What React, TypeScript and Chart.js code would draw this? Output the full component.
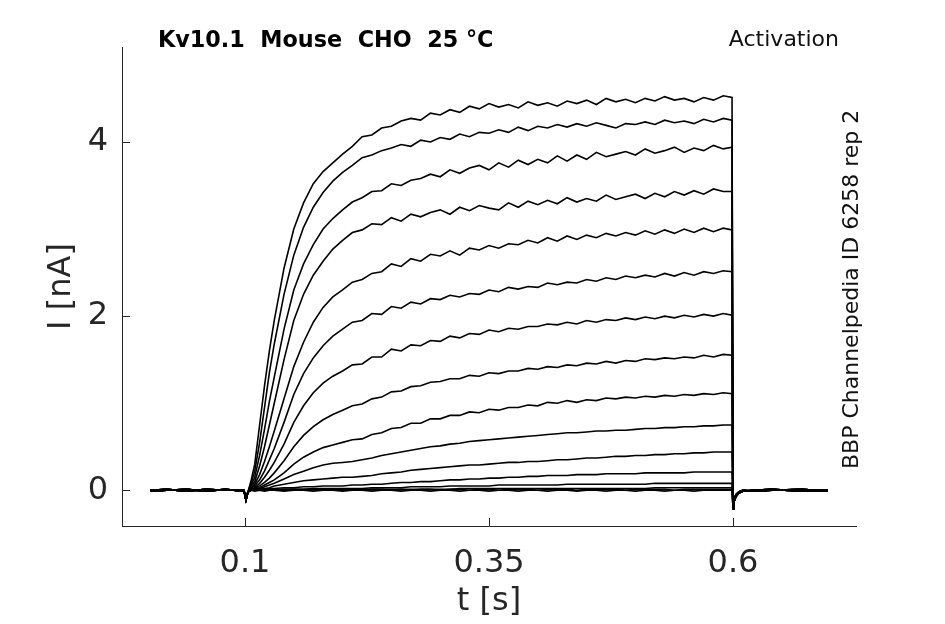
import { useEffect, useRef } from "react";
import { Chart, registerables } from "chart.js";
import type { ChartConfiguration, Plugin } from "chart.js";

Chart.register(...registerables);

const FONT = "'DejaVu Sans', Verdana, sans-serif";
const AXIS_COLOR = "#262626";
const TICK_LEN = 8;

const X_TICKS = [0.1, 0.35, 0.6];
const Y_TICKS = [0, 2, 4];

// time base (s)
const preTime = [0.003, 0.02, 0.04, 0.06, 0.08, 0.099];
const pulseTime = [
  0.101, 0.103, 0.106, 0.11, 0.115, 0.12, 0.125, 0.13, 0.14, 0.15, 0.16, 0.17, 0.18, 0.19,
  0.2, 0.21, 0.22, 0.23, 0.24, 0.25, 0.26, 0.27, 0.28, 0.29,
  0.3, 0.31, 0.32, 0.33, 0.34, 0.35, 0.36, 0.37, 0.38, 0.39,
  0.4, 0.41, 0.42, 0.43, 0.44, 0.45, 0.46, 0.47, 0.48, 0.49,
  0.5, 0.51, 0.52, 0.53, 0.54, 0.55, 0.56, 0.57, 0.58, 0.59,
  0.599,
];
const tailTime = [0.6, 0.601, 0.603, 0.606, 0.61, 0.62, 0.64, 0.67, 0.697];

// holding current before and after the step (nA)
const preA = [0.0, 0.01, -0.01, 0.01, 0.0, 0.0];
const preB = [-0.01, 0.0, 0.01, -0.01, 0.01, -0.01];
const tailA = [-0.21, -0.13, -0.07, -0.03, -0.01, 0.0, 0.01, -0.01, 0.0];
const tailB = [-0.19, -0.11, -0.05, -0.02, 0.0, -0.01, 0.0, 0.01, -0.01];

// current during the step, one array per test potential (nA)
const trace1 = [
  -0.11, -0.02, 0.1, 0.3, 0.75, 1.2, 1.6, 1.95, 2.55, 3.0, 3.3, 3.52, 3.66, 3.76,
  3.86, 3.95, 4.06, 4.08, 4.16, 4.18, 4.24, 4.27, 4.25, 4.33,
  4.31, 4.37, 4.34, 4.41, 4.38, 4.44, 4.4, 4.43, 4.39, 4.46,
  4.42, 4.45, 4.41, 4.47, 4.44, 4.48, 4.43, 4.5, 4.46, 4.49,
  4.45, 4.5, 4.47, 4.52, 4.48, 4.5, 4.46, 4.51, 4.48, 4.53,
  4.51,
];
const trace2 = [
  -0.11, -0.02, 0.07, 0.22, 0.55, 0.95, 1.35, 1.68, 2.25, 2.7, 3.02, 3.25, 3.42, 3.55,
  3.65, 3.73, 3.82, 3.85, 3.9, 3.93, 3.97, 3.95, 4.02, 4.0,
  4.05, 4.03, 4.09, 4.06, 4.11, 4.1, 4.14, 4.11, 4.17, 4.13,
  4.18, 4.16, 4.2, 4.17, 4.21, 4.18, 4.22, 4.19, 4.16, 4.21,
  4.2, 4.23, 4.2, 4.25, 4.22, 4.24, 4.21, 4.26, 4.23, 4.27,
  4.25,
];
const trace3 = [
  -0.11, -0.02, 0.05, 0.15, 0.4, 0.7, 1.02, 1.3, 1.85, 2.3, 2.6, 2.82, 3.0, 3.12,
  3.22, 3.31, 3.36, 3.43, 3.44, 3.52, 3.5, 3.56, 3.58, 3.63,
  3.6, 3.68, 3.64, 3.7, 3.73, 3.68, 3.76, 3.71, 3.79, 3.74,
  3.8, 3.76, 3.84, 3.78, 3.85, 3.8, 3.88, 3.83, 3.86, 3.89,
  3.85, 3.92, 3.87, 3.9, 3.94, 3.88, 3.93, 3.9, 3.96, 3.92,
  3.94,
];
const trace4 = [
  -0.11, -0.02, 0.04, 0.1, 0.28, 0.5, 0.75, 1.0, 1.5, 1.95, 2.25, 2.47, 2.63, 2.77,
  2.87, 2.96, 2.99, 3.06, 3.05, 3.13, 3.09, 3.17, 3.14, 3.19,
  3.22, 3.17, 3.25, 3.21, 3.27, 3.24, 3.22, 3.3, 3.25, 3.32,
  3.28, 3.33, 3.29, 3.36, 3.31, 3.35, 3.32, 3.39, 3.34, 3.37,
  3.4, 3.35, 3.41, 3.37, 3.43, 3.39, 3.44, 3.4, 3.46, 3.43,
  3.43,
];
const trace5 = [
  -0.11, -0.02, 0.03, 0.07, 0.18, 0.33, 0.5, 0.68, 1.05, 1.42, 1.7, 1.93, 2.1, 2.22,
  2.3, 2.39, 2.42, 2.49, 2.51, 2.6, 2.57, 2.66, 2.63, 2.71,
  2.69, 2.75, 2.7, 2.78, 2.76, 2.81, 2.78, 2.83, 2.82, 2.87,
  2.84, 2.9, 2.86, 2.92, 2.88, 2.93, 2.9, 2.95, 2.92, 2.96,
  2.93, 2.98, 2.94, 2.99, 2.95, 3.0, 2.96, 3.01, 2.97, 3.01,
  2.99,
];
const trace6 = [
  -0.11, -0.02, 0.02, 0.05, 0.12, 0.22, 0.35, 0.48, 0.78, 1.1, 1.34, 1.52, 1.66, 1.77,
  1.85, 1.93, 1.95, 2.03, 2.02, 2.11, 2.09, 2.16, 2.14, 2.2,
  2.19, 2.24, 2.22, 2.26, 2.25, 2.3, 2.28, 2.33, 2.31, 2.34,
  2.33, 2.38, 2.36, 2.39, 2.38, 2.42, 2.4, 2.44, 2.42, 2.46,
  2.44, 2.47, 2.45, 2.49, 2.46, 2.5, 2.47, 2.51, 2.49, 2.52,
  2.51,
];
const trace7 = [
  -0.11, -0.02, 0.02, 0.03, 0.08, 0.15, 0.23, 0.32, 0.53, 0.78, 0.97, 1.12, 1.23, 1.31,
  1.37, 1.44, 1.45, 1.53, 1.53, 1.62, 1.6, 1.67, 1.66, 1.72,
  1.71, 1.77, 1.75, 1.8, 1.79, 1.84, 1.82, 1.86, 1.85, 1.88,
  1.88, 1.91, 1.9, 1.93, 1.91, 1.95, 1.93, 1.96, 1.95, 1.98,
  1.96, 1.99, 1.97, 2.0, 1.98, 2.01, 1.99, 2.02, 2.0, 2.03,
  2.01,
];
const trace8 = [
  -0.11, -0.02, 0.01, 0.02, 0.05, 0.09, 0.14, 0.2, 0.34, 0.5, 0.63, 0.73, 0.81, 0.87,
  0.92, 0.97, 0.99, 1.05, 1.07, 1.13, 1.14, 1.19, 1.2, 1.24,
  1.25, 1.28, 1.28, 1.32, 1.31, 1.35, 1.34, 1.37, 1.37, 1.4,
  1.39, 1.42, 1.41, 1.44, 1.43, 1.46, 1.45, 1.48, 1.46, 1.49,
  1.48, 1.51, 1.5, 1.52, 1.51, 1.53, 1.52, 1.55, 1.53, 1.56,
  1.55,
];
const trace9 = [
  -0.11, -0.02, 0.01, 0.02, 0.03, 0.06, 0.09, 0.12, 0.2, 0.3, 0.38, 0.44, 0.49, 0.52,
  0.55, 0.58, 0.59, 0.64, 0.66, 0.71, 0.72, 0.77, 0.77, 0.82,
  0.82, 0.86, 0.86, 0.9, 0.89, 0.93, 0.92, 0.95, 0.95, 0.98,
  0.97, 1.01, 1.0, 1.03, 1.01, 1.04, 1.03, 1.06, 1.05, 1.07,
  1.06, 1.08, 1.07, 1.09, 1.08, 1.1, 1.09, 1.11, 1.1, 1.12,
  1.11,
];
const trace10 = [
  -0.11, -0.02, 0.01, 0.01, 0.02, 0.04, 0.06, 0.08, 0.13, 0.18, 0.22, 0.26, 0.29, 0.31,
  0.32, 0.33, 0.35, 0.37, 0.4, 0.42, 0.44, 0.46, 0.48, 0.5,
  0.51, 0.53, 0.54, 0.56, 0.57, 0.58, 0.59, 0.6, 0.61, 0.62,
  0.63, 0.64, 0.65, 0.66, 0.66, 0.67, 0.68, 0.68, 0.69, 0.69,
  0.7, 0.71, 0.71, 0.72, 0.72, 0.73, 0.73, 0.74, 0.74, 0.75,
  0.75,
];
const trace11 = [
  -0.11, -0.02, 0.0, 0.01, 0.01, 0.02, 0.03, 0.05, 0.07, 0.09, 0.11, 0.12, 0.13, 0.14,
  0.15, 0.15, 0.16, 0.17, 0.19, 0.2, 0.21, 0.23, 0.24, 0.25,
  0.26, 0.27, 0.28, 0.29, 0.29, 0.3, 0.31, 0.32, 0.32, 0.33,
  0.33, 0.34, 0.35, 0.35, 0.36, 0.37, 0.37, 0.38, 0.39, 0.39,
  0.4, 0.4, 0.41, 0.41, 0.42, 0.42, 0.43, 0.43, 0.44, 0.44,
  0.44,
];
const trace12 = [
  -0.11, -0.02, 0.0, 0.0, 0.01, 0.01, 0.02, 0.02, 0.03, 0.03, 0.04, 0.04, 0.05, 0.05,
  0.05, 0.06, 0.06, 0.07, 0.07, 0.08, 0.09, 0.09, 0.1, 0.1,
  0.11, 0.12, 0.12, 0.13, 0.13, 0.14, 0.14, 0.15, 0.15, 0.16,
  0.16, 0.17, 0.17, 0.17, 0.18, 0.18, 0.18, 0.19, 0.19, 0.19,
  0.19, 0.2, 0.2, 0.2, 0.2, 0.2, 0.21, 0.21, 0.21, 0.21,
  0.21,
];
const trace13 = [
  -0.11, -0.02, 0.0, 0.0, 0.0, 0.01, 0.01, 0.01, 0.01, 0.01, 0.01, 0.02, 0.02, 0.02,
  0.02, 0.02, 0.02, 0.03, 0.03, 0.03, 0.03, 0.04, 0.04, 0.04,
  0.04, 0.05, 0.05, 0.05, 0.05, 0.05, 0.06, 0.06, 0.06, 0.06,
  0.06, 0.06, 0.06, 0.07, 0.07, 0.07, 0.07, 0.07, 0.07, 0.07,
  0.07, 0.07, 0.08, 0.08, 0.08, 0.08, 0.08, 0.08, 0.08, 0.08,
  0.08,
];
const trace14 = [
  -0.11, -0.02, 0.0, 0.0, 0.0, 0.0, 0.0, 0.0, 0.01, 0.01, 0.01, 0.01, 0.01, 0.01,
  0.01, 0.01, 0.01, 0.01, 0.01, 0.01, 0.01, 0.01, 0.01, 0.01,
  0.01, 0.01, 0.02, 0.02, 0.02, 0.02, 0.02, 0.02, 0.02, 0.02,
  0.02, 0.02, 0.02, 0.02, 0.02, 0.02, 0.02, 0.02, 0.02, 0.02,
  0.02, 0.02, 0.03, 0.03, 0.03, 0.03, 0.03, 0.03, 0.03, 0.03,
  0.03,
];
const trace15 = [
  -0.11, -0.02, 0.0, 0.01, 0.0, 0.01, 0.0, 0.01, 0.0, 0.01, 0.0, 0.01, 0.0, 0.01,
  0.0, 0.01, 0.0, 0.01, 0.01, 0.0, 0.01, 0.0, 0.01, 0.01,
  0.0, 0.01, 0.01, 0.0, 0.01, 0.01, 0.0, 0.01, 0.01, 0.01,
  0.0, 0.01, 0.01, 0.01, 0.0, 0.01, 0.01, 0.01, 0.01, 0.0,
  0.01, 0.01, 0.01, 0.01, 0.0, 0.01, 0.01, 0.01, 0.01, 0.01,
  0.01,
];
const trace16 = [
  -0.11, -0.02, 0.0, -0.01, 0.0, -0.01, 0.0, 0.0, -0.01, 0.0, 0.0, -0.01, 0.0, 0.0,
  -0.01, 0.0, 0.0, -0.01, 0.0, 0.0, -0.01, 0.0, 0.0, -0.01,
  0.0, 0.0, -0.01, 0.0, 0.0, -0.01, 0.0, 0.0, -0.01, 0.0,
  0.0, -0.01, 0.0, 0.0, -0.01, 0.0, 0.0, -0.01, 0.0, 0.0,
  -0.01, 0.0, 0.0, -0.01, 0.0, 0.0, -0.01, 0.0, 0.0, 0.0,
  0.0,
];

const traces = [
  trace1, trace2, trace3, trace4, trace5, trace6, trace7, trace8,
  trace9, trace10, trace11, trace12, trace13, trace14, trace15, trace16,
];

function sweep(pulse: number[], pre: number[], tail: number[]) {
  return [
    ...preTime.map((t, i) => ({ x: t, y: pre[i] })),
    ...pulseTime.map((t, i) => ({ x: t, y: pulse[i] })),
    ...tailTime.map((t, i) => ({ x: t, y: tail[i] })),
  ];
}

const decorations: Plugin<"line"> = {
  id: "decorations",
  afterDraw(chart) {
    const { ctx, chartArea, scales } = chart;
    const xs = scales.x;
    const ys = scales.y;
    ctx.save();

    // inward tick marks
    ctx.strokeStyle = AXIS_COLOR;
    ctx.lineWidth = 1;
    ctx.beginPath();
    X_TICKS.forEach((v) => {
      const px = Math.round(xs.getPixelForValue(v)) + 0.5;
      ctx.moveTo(px, chartArea.bottom);
      ctx.lineTo(px, chartArea.bottom - TICK_LEN);
    });
    Y_TICKS.forEach((v) => {
      const py = Math.round(ys.getPixelForValue(v)) + 0.5;
      ctx.moveTo(chartArea.left, py);
      ctx.lineTo(chartArea.left + TICK_LEN, py);
    });
    ctx.stroke();

    // axis titles
    ctx.fillStyle = AXIS_COLOR;
    ctx.font = `32px ${FONT}`;
    ctx.textAlign = "center";
    ctx.textBaseline = "middle";
    ctx.fillText("t [s]", (chartArea.left + chartArea.right) / 2, 602);
    ctx.save();
    ctx.translate(62, (chartArea.top + chartArea.bottom) / 2);
    ctx.rotate(-Math.PI / 2);
    ctx.fillText("I [nA]", 0, 0);
    ctx.restore();

    // header texts
    ctx.textBaseline = "alphabetic";
    ctx.fillStyle = "#000";
    ctx.font = `bold 22.3px ${FONT}`;
    ctx.textAlign = "left";
    ctx.fillText("Kv10.1  Mouse  CHO  25 °C", 158, 47);

    ctx.fillStyle = "#111";
    ctx.font = `22px ${FONT}`;
    ctx.textAlign = "right";
    ctx.fillText("Activation", 839, 46);

    ctx.save();
    ctx.translate(858, 469);
    ctx.rotate(-Math.PI / 2);
    ctx.textAlign = "left";
    ctx.fillText("BBP Channelpedia ID 6258 rep 2", 0, 0);
    ctx.restore();

    ctx.restore();
  },
};

export default function App() {
  const canvasRef = useRef<HTMLCanvasElement | null>(null);
  const chartRef = useRef<Chart<"line"> | null>(null);

  useEffect(() => {
    if (!canvasRef.current) return;

    const datasets = traces.map((pulse, i) => ({
      label: `sweep ${i + 1}`,
      data: sweep(pulse, i % 2 ? preB : preA, i % 2 ? tailB : tailA),
      borderColor: "#000",
      borderWidth: 1.6,
      pointRadius: 0,
      tension: 0,
      fill: false,
    }));

    const config: ChartConfiguration<"line"> = {
      type: "line",
      data: { datasets },
      options: {
        responsive: false,
        animation: false,
        events: [],
        layout: { padding: { left: 0, right: 89, top: 47, bottom: 0 } },
        plugins: {
          legend: { display: false },
          tooltip: { enabled: false },
          title: { display: false },
        },
        scales: {
          x: {
            type: "linear",
            min: -0.026,
            max: 0.726,
            afterBuildTicks: (scale) => {
              scale.ticks = X_TICKS.map((v) => ({ value: v }));
            },
            afterFit: (scale) => {
              scale.height = 98;
            },
            grid: { display: false, drawTicks: false },
            border: { display: true, color: AXIS_COLOR, width: 1 },
            ticks: {
              color: AXIS_COLOR,
              font: { family: FONT, size: 32 },
              padding: 18,
              maxRotation: 0,
              autoSkip: false,
              callback: (v) => String(v),
            },
          },
          y: {
            type: "linear",
            min: -0.41,
            max: 5.09,
            afterBuildTicks: (scale) => {
              scale.ticks = Y_TICKS.map((v) => ({ value: v }));
            },
            afterFit: (scale) => {
              scale.width = 122;
            },
            grid: { display: false, drawTicks: false },
            border: { display: true, color: AXIS_COLOR, width: 1 },
            ticks: {
              color: AXIS_COLOR,
              font: { family: FONT, size: 32 },
              padding: 14,
              autoSkip: false,
              callback: (v) => String(v),
            },
          },
        },
      },
      plugins: [decorations],
    };

    chartRef.current = new Chart(canvasRef.current, config);

    return () => {
      chartRef.current?.destroy();
      chartRef.current = null;
    };
  }, []);

  return (
    <div style={{ position: "absolute", left: 0, top: 0, width: 945, height: 624, background: "#fff" }}>
      <canvas ref={canvasRef} width={945} height={624} style={{ width: 945, height: 624 }} />
    </div>
  );
}
